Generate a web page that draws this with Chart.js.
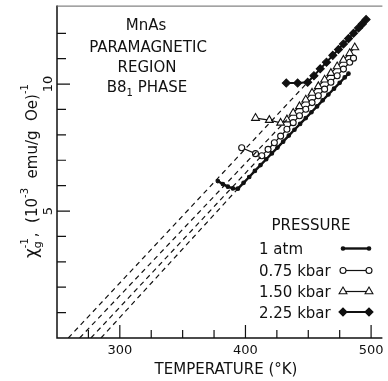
<!DOCTYPE html>
<html>
<head>
<meta charset="utf-8">
<script src="https://cdn.jsdelivr.net/npm/chart.js@4"></script>
<style>
  html, body { margin: 0; padding: 0; background: #fff; }
  canvas { display: block; }
</style>
</head>
<body>
<canvas id="chart" width="388" height="381"></canvas>
<script>
// inverse susceptibility of MnAs vs temperature, one series per pressure
const temp1atm = [378, 382, 386, 390, 394, 398.5, 403, 407.5, 412, 416.5, 421, 425.5, 430, 434.5, 439, 443.5, 448, 452.5, 457, 461.5, 466, 470.5, 475, 479, 482];
const chi1atm  = [6.18, 6.06, 5.96, 5.89, 5.88, 6.11, 6.34, 6.58, 6.81, 7.04, 7.27, 7.50, 7.73, 7.97, 8.20, 8.43, 8.66, 8.89, 9.12, 9.36, 9.59, 9.82, 10.05, 10.26, 10.41];

const temp075 = [397, 408, 413, 418, 423, 428, 433, 438, 443, 448, 453, 458, 463, 468, 473, 478, 483, 486];
const chi075  = [7.49, 7.26, 7.18, 7.43, 7.69, 7.95, 8.22, 8.48, 8.75, 9.01, 9.27, 9.54, 9.80, 10.07, 10.33, 10.59, 10.86, 11.02];

const temp150 = [408, 419, 428, 433, 438, 443, 448, 453, 458, 463, 468, 473, 478, 483, 487];
const chi150  = [8.66, 8.58, 8.47, 8.60, 8.86, 9.12, 9.38, 9.65, 9.91, 10.17, 10.43, 10.69, 10.95, 11.21, 11.44];

const temp225 = [432.5, 441.5, 449.5, 454.5, 459.5, 464.5, 469.5, 474, 478, 482, 486, 490, 493, 496];
const chi225  = [10.04, 10.04, 10.07, 10.33, 10.60, 10.86, 11.13, 11.36, 11.58, 11.79, 12.00, 12.21, 12.37, 12.54];

// Curie-Weiss extrapolations (dashed) down to zero
const fitTemp1atm = [285, 394];   const fitChi1atm = [0, 5.88];
const fitTemp075  = [277, 413];   const fitChi075  = [0, 7.18];
const fitTemp150  = [268, 433];   const fitChi150  = [0, 8.60];
const fitTemp225  = [259, 449.5]; const fitChi225  = [0, 10.07];

const xMajorTicks = [300, 400, 500];
const xMinorTicks = [275, 325, 350, 375, 425, 450, 475];
const yMajorTicks = [5, 10];
const yMinorTicks = [1, 2, 3, 4, 6, 7, 8, 9, 11, 12];

const pressureLabels = ["1 atm", "0.75 kbar", "1.50 kbar", "2.25 kbar"];
const noteLines = ["MnAs", "PARAMAGNETIC", "REGION", "B8", "PHASE"];

const FONT = "'DejaVu Sans', sans-serif";
const INK = "#111";

const pts = (xs, ys) => xs.map((x, i) => ({ x, y: ys[i] }));

// marker styles per pressure (used by datasets and the key)
const styles = [
  { pointStyle: "circle",   radius: 1.8, fill: INK,    lineWidth: 2.4 },
  { pointStyle: "circle",   radius: 3,   fill: "#fff", lineWidth: 1.2 },
  { pointStyle: "triangle", radius: 4.5, fill: "#fff", lineWidth: 1.2 },
  { pointStyle: "rectRot",  radius: 4,   fill: INK,    lineWidth: 2 }
];

function seriesSet(data, st) {
  return {
    data,
    borderColor: INK,
    borderWidth: st.lineWidth,
    pointStyle: st.pointStyle,
    pointRadius: st.radius,
    pointBackgroundColor: st.fill,
    pointBorderColor: INK,
    pointBorderWidth: 1.1,
    tension: 0,
    fill: false
  };
}

function fitSet(data) {
  return {
    data,
    borderColor: INK,
    borderWidth: 1.2,
    borderDash: [5, 4],
    pointRadius: 0,
    fill: false
  };
}

// axes, inward ticks, labels, note and pressure key
const decorations = {
  id: "decorations",
  afterDraw(chart) {
    const { ctx, chartArea: a, scales: { x, y } } = chart;
    ctx.save();

    // frame
    ctx.strokeStyle = INK;
    ctx.lineWidth = 1.5;
    ctx.beginPath();
    ctx.moveTo(a.left, a.top);
    ctx.lineTo(a.left, a.bottom);
    ctx.lineTo(a.right, a.bottom);
    ctx.stroke();
    ctx.strokeStyle = "#666";
    ctx.lineWidth = 1;
    ctx.beginPath();
    ctx.moveTo(a.left, a.top + 0.5);
    ctx.lineTo(a.right, a.top + 0.5);
    ctx.stroke();

    // ticks
    ctx.strokeStyle = INK;
    ctx.lineWidth = 1.2;
    ctx.beginPath();
    xMajorTicks.forEach(v => { const px = x.getPixelForValue(v); ctx.moveTo(px, a.bottom); ctx.lineTo(px, a.bottom - 13); });
    xMinorTicks.forEach(v => { const px = x.getPixelForValue(v); ctx.moveTo(px, a.bottom); ctx.lineTo(px, a.bottom - 8); });
    yMajorTicks.forEach(v => { const py = y.getPixelForValue(v); ctx.moveTo(a.left, py); ctx.lineTo(a.left + 13, py); });
    yMinorTicks.forEach(v => { const py = y.getPixelForValue(v); ctx.moveTo(a.left, py); ctx.lineTo(a.left + 9, py); });
    ctx.stroke();

    ctx.fillStyle = INK;

    // x tick labels
    ctx.font = "13px " + FONT;
    ctx.textAlign = "center";
    ctx.textBaseline = "alphabetic";
    xMajorTicks.forEach(v => ctx.fillText(String(v), x.getPixelForValue(v), 354));

    // y tick labels, rotated
    yMajorTicks.forEach(v => {
      ctx.save();
      ctx.translate(52, y.getPixelForValue(v));
      ctx.rotate(-Math.PI / 2);
      ctx.fillText(String(v), 0, 0);
      ctx.restore();
    });

    // x title
    ctx.font = "15px " + FONT;
    ctx.fillText("TEMPERATURE (°K)", 226, 374);

    // y title, rotated, with sub/superscripts
    ctx.save();
    ctx.translate(37, 258);
    ctx.rotate(-Math.PI / 2);
    ctx.textAlign = "left";
    let cx = 0;
    const run = (t, size, dy) => {
      ctx.font = size + "px " + FONT;
      ctx.fillText(t, cx, dy);
      return ctx.measureText(t).width;
    };
    cx += run("χ", 17, 0);
    const wg = run("g", 11, 4);
    const wm = run("-1", 10, -9);
    cx += Math.max(wg, wm) + 1;
    cx += run(",  (10", 15, 0);
    cx += run("-3", 10, -9);
    cx += run("  emu/g  Oe)", 15, 0);
    run("-1", 10, -9);
    ctx.restore();

    // note in the upper left
    ctx.font = "15px " + FONT;
    ctx.textAlign = "center";
    ctx.fillText(noteLines[0], 146, 29.5);
    ctx.fillText(noteLines[1], 148, 51.5);
    ctx.fillText(noteLines[2], 147, 71.5);
    const w1 = ctx.measureText(noteLines[3]).width;
    const w2 = ctx.measureText(" " + noteLines[4]).width;
    ctx.font = "10px " + FONT;
    const ws = ctx.measureText("1").width;
    const start = 147 - (w1 + ws + w2) / 2;
    ctx.textAlign = "left";
    ctx.font = "15px " + FONT;
    ctx.fillText(noteLines[3], start, 92);
    ctx.fillText(" " + noteLines[4], start + w1 + ws, 92);
    ctx.font = "10px " + FONT;
    ctx.fillText("1", start + w1, 96);

    // pressure key
    ctx.font = "15px " + FONT;
    ctx.textAlign = "center";
    ctx.fillText("PRESSURE", 311, 229.5);
    ctx.textAlign = "left";
    const rowBase = [254, 276, 297, 317.5];
    pressureLabels.forEach((lab, i) => {
      const st = styles[i];
      ctx.fillStyle = INK;
      ctx.font = "15px " + FONT;
      ctx.fillText(lab, 259, rowBase[i]);
      const ly = rowBase[i] - 5.5;
      ctx.strokeStyle = INK;
      ctx.lineWidth = st.lineWidth;
      ctx.setLineDash([]);
      ctx.beginPath();
      ctx.moveTo(343, ly);
      ctx.lineTo(369, ly);
      ctx.stroke();
      [343, 369].forEach(px => {
        ctx.fillStyle = st.fill;
        ctx.strokeStyle = INK;
        ctx.lineWidth = 1.1;
        Chart.helpers.drawPoint(ctx, { pointStyle: st.pointStyle, radius: st.radius, rotation: 0, borderWidth: 1.1 }, px, ly);
      });
    });

    ctx.restore();
  }
};

new Chart(document.getElementById("chart"), {
  type: "line",
  data: {
    datasets: [
      fitSet(pts(fitTemp1atm, fitChi1atm)),
      fitSet(pts(fitTemp075, fitChi075)),
      fitSet(pts(fitTemp150, fitChi150)),
      fitSet(pts(fitTemp225, fitChi225)),
      seriesSet(pts(temp1atm, chi1atm), styles[0]),
      seriesSet(pts(temp075, chi075), styles[1]),
      seriesSet(pts(temp150, chi150), styles[2]),
      seriesSet(pts(temp225, chi225), styles[3])
    ]
  },
  options: {
    responsive: false,
    animation: false,
    layout: { padding: { left: 57, top: 4, right: 0, bottom: 43 } },
    plugins: { legend: { display: false }, tooltip: { enabled: false } },
    scales: {
      x: { type: "linear", min: 250, max: 509, display: false },
      y: { type: "linear", min: 0, max: 13.09, display: false }
    }
  },
  plugins: [decorations]
});
</script>
</body>
</html>
